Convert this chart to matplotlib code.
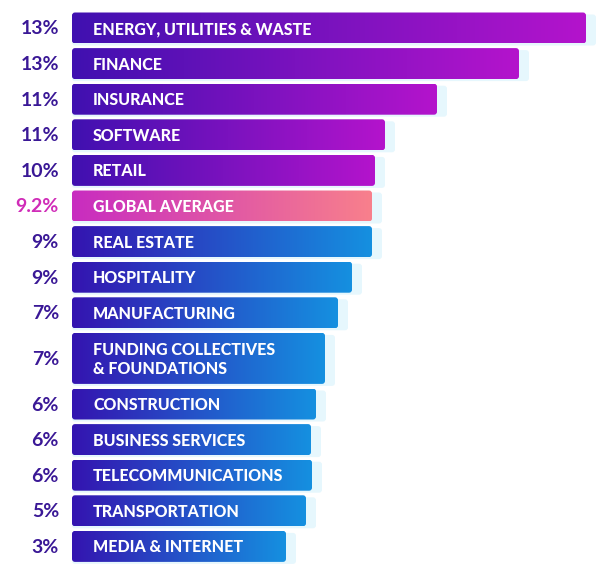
import numpy as np
import matplotlib
matplotlib.use("Agg")
import matplotlib.pyplot as plt
from matplotlib.patches import FancyBboxPatch
from matplotlib.colors import LinearSegmentedColormap

categories = ["ENERGY, UTILITIES & WASTE", "FINANCE", "INSURANCE", "SOFTWARE", "RETAIL",
              "GLOBAL AVERAGE", "REAL ESTATE", "HOSPITALITY", "MANUFACTURING",
              "FUNDING COLLECTIVES\n& FOUNDATIONS", "CONSTRUCTION", "BUSINESS SERVICES",
              "TELECOMMUNICATIONS", "TRANSPORTATION", "MEDIA & INTERNET"]
pct_labels = ["13%", "13%", "11%", "11%", "10%", "9.2%", "9%", "9%", "7%", "7%",
              "6%", "6%", "6%", "5%", "3%"]
# bar lengths as drawn (display units)
bar_lengths = [514, 447, 365, 313, 303, 300, 300, 280, 266, 253, 244, 239, 240, 234, 214]
groups = ["purple"] * 5 + ["avg"] + ["blue"] * 9

W, H = 600, 576
fig = plt.figure(figsize=(6, 5.76), dpi=100)
ax = fig.add_axes([0, 0, 1, 1])
ax.set_xlim(0, W)
ax.set_ylim(H, 0)
ax.axis("off")

cmaps = {
    "purple": LinearSegmentedColormap.from_list("p", ["#4010b0", "#b414cc"]),
    "blue": LinearSegmentedColormap.from_list("b", ["#3414b0", "#1590e0"]),
    "avg": LinearSegmentedColormap.from_list("a", ["#c82cc0", "#f8808c"]),
}
x0 = 72
gap = 4.6
y = 12.5
font = "Lato"
grad = np.linspace(0, 1, 256).reshape(1, -1)
for cat, lab, L, g in zip(categories, pct_labels, bar_lengths, groups):
    h = 51 if "\n" in cat else 31
    # shadow
    sh = FancyBboxPatch((x0, y + 2), L + 10, h, boxstyle="round,pad=0,rounding_size=3",
                        fc="#e6f7fd", ec="none", zorder=1)
    ax.add_patch(sh)
    p = FancyBboxPatch((x0, y), L, h, boxstyle="round,pad=0,rounding_size=3",
                       fc="none", ec="none", zorder=2)
    ax.add_patch(p)
    im = ax.imshow(grad, cmap=cmaps[g], extent=(x0, x0 + L, y + h, y), aspect="auto", zorder=2)
    im.set_clip_path(p)
    cy = y + h / 2
    ax.text(93, cy + 1, cat, color="white", fontsize=11.5, fontweight="heavy", family=font,
            va="center", ha="left", zorder=3, linespacing=1.25)
    ax.text(59, cy + 1, lab, color="#d02cb8" if g == "avg" else "#3a1896", fontsize=14,
            fontweight="bold", family=font, va="center", ha="right", zorder=3)
    y += h + gap
ax.set_xlim(0, W)
ax.set_ylim(H, 0)
fig.savefig("out.png", dpi=100, facecolor="white")
